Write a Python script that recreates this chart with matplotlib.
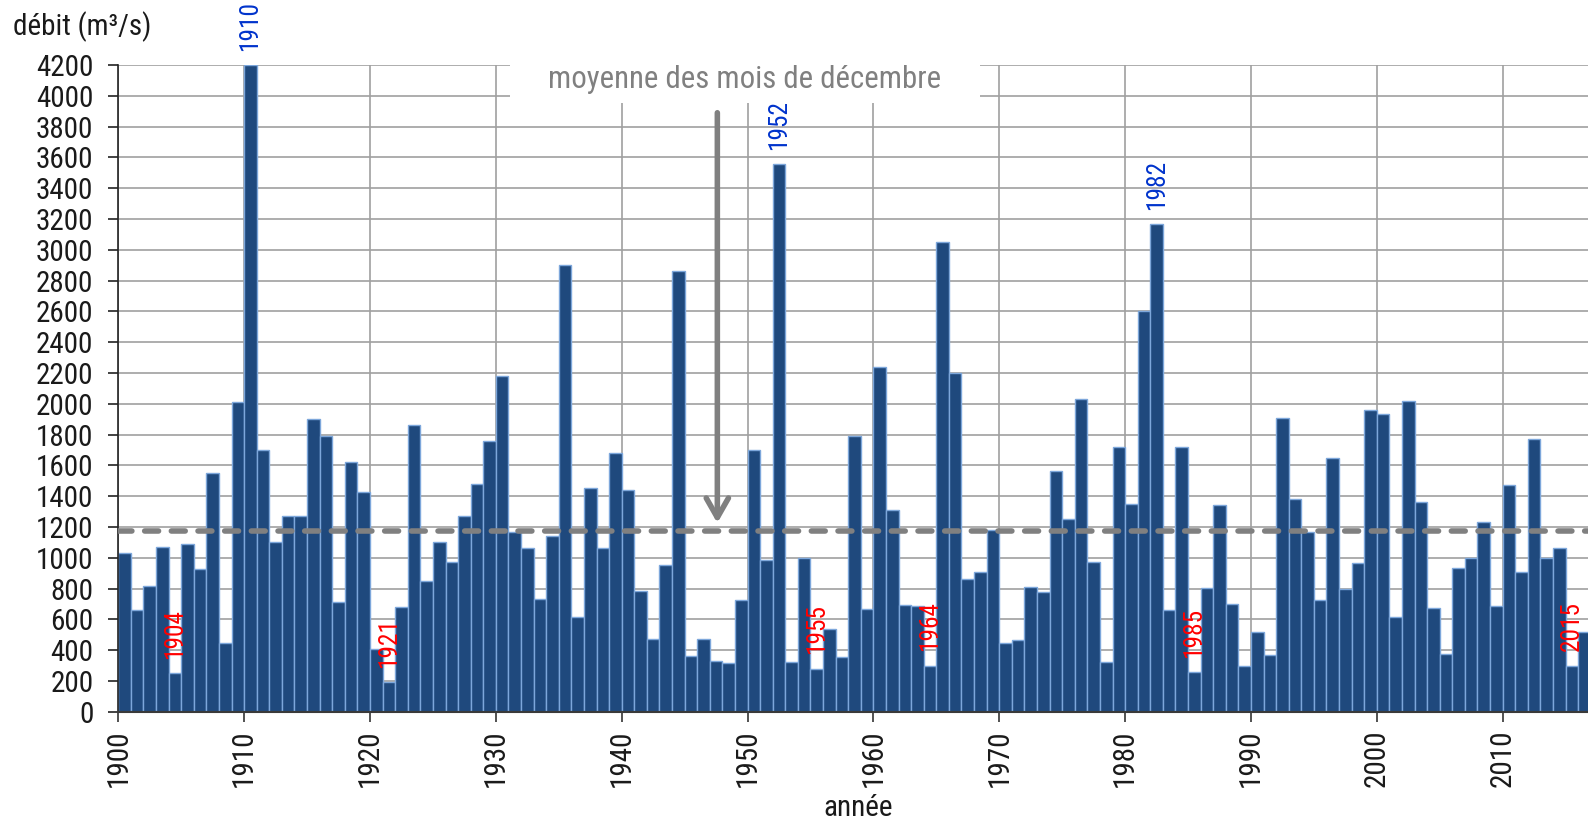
import numpy as np
import matplotlib
matplotlib.use("Agg")
import matplotlib.pyplot as plt
from matplotlib import font_manager as fm
from matplotlib.patches import Rectangle

# ---------------- data ----------------
years = list(range(1900, 2017))
debit = [
    1030, 660, 815, 1070, 250, 1090, 930, 1550, 445, 2010,      # 1900-1909
    4200, 1700, 1100, 1270, 1270, 1900, 1790, 710, 1620, 1430,  # 1910-1919
    410, 190, 680, 1860, 850, 1100, 975, 1270, 1480, 1760,      # 1920-1929
    2180, 1170, 1065, 735, 1140, 2900, 615, 1450, 1060, 1680,   # 1930-1939
    1440, 785, 470, 950, 2860, 360, 475, 330, 315, 725,         # 1940-1949
    1700, 985, 3560, 325, 1000, 280, 535, 355, 1790, 665,       # 1950-1959
    2240, 1310, 690, 685, 297, 3050, 2200, 860, 905, 1180,      # 1960-1969
    445, 465, 810, 780, 1560, 1250, 2030, 975, 325, 1720,       # 1970-1979
    1350, 2600, 3170, 660, 1720, 255, 805, 1340, 700, 300,      # 1980-1989
    520, 365, 1910, 1380, 1170, 725, 1650, 795, 965, 1960,      # 1990-1999
    1935, 615, 2015, 1365, 675, 375, 935, 1000, 1235, 685,      # 2000-2009
    1470, 910, 1770, 1000, 1065, 297, 520,                      # 2010-2016
]
mean_december = 1175
high_years = [1910, 1952, 1982]
low_years = [1904, 1921, 1955, 1964, 1985, 2015]
xticks = list(range(1900, 2011, 10))
yticks = list(range(0, 4201, 200))
arrow_year = 1947.6
arrow_from, arrow_to = 3890, 1225

# ---------------- fonts: look for a condensed sans ----------------
def pick_font():
    entries = fm.fontManager.ttflist
    names = {f.name for f in entries}
    for cand in ['Liberation Sans Narrow', 'Arial Narrow', 'Roboto Condensed',
                 'Open Sans Condensed', 'Noto Sans Condensed', 'DejaVu Sans Condensed']:
        if cand in names:
            return cand, 'normal', True
    cond = []
    for f in entries:
        st = f.stretch
        if isinstance(st, str):
            is_c = 'condensed' in st
        else:
            is_c = st < 500
        if is_c and f.style == 'normal' and f.weight in (400, 'normal', 'regular'):
            cond.append(f)
    if cond:
        for pref in ['Roboto', 'Noto Sans', 'Open Sans', 'DejaVu Sans', 'Liberation Sans']:
            for f in cond:
                if f.name == pref:
                    return f.name, f.stretch, True
        f = cond[0]
        return f.name, f.stretch, True
    return 'Liberation Sans', 'normal', False

FONT, STRETCH, CONDENSED = pick_font()
plt.rcParams['font.family'] = [FONT, 'DejaVu Sans']
plt.rcParams['font.stretch'] = STRETCH
FS = 21.0 if CONDENSED else 18

W, H = 1588, 822
fig = plt.figure(figsize=(W / 100, H / 100), dpi=100)
left, right = 118.3, 1588
top, bottom = 65.0, 711.7
ax = fig.add_axes([left / W, 1 - bottom / H, (right - left) / W, (bottom - top) / H])

px_per_year = 12.585
ax.set_xlim(1900, 1900 + (right - left) / px_per_year)
ax.set_ylim(0, 4200)

ax.bar(years, debit, width=1.0, align='edge', color='#1F497D',
       edgecolor='#7DA7DB', linewidth=1.0, zorder=2)

ax.set_axisbelow(True)
ax.set_yticks(yticks)
ax.set_xticks(xticks)
ax.grid(True, color='#A0A0A0', linewidth=1.2)
for s in ['top', 'right']:
    ax.spines[s].set_visible(False)
ax.spines['left'].set_color('#222222')
ax.spines['left'].set_linewidth(1.2)
ax.spines['bottom'].set_color('#3A3A3A')
ax.spines['bottom'].set_linewidth(1.5)
ax.spines['bottom'].set_zorder(3)

ax.tick_params(axis='y', length=7, width=1.2, color='#222222', pad=11,
               labelsize=FS, labelcolor='#1a1a1a')
ax.tick_params(axis='x', length=7, width=1.2, color='#333333', pad=6,
               labelsize=FS, labelcolor='#1a1a1a', labelrotation=90)
for lbl in ax.get_xticklabels():
    lbl.set_horizontalalignment('center')

# mean line
ax.plot([1900, ax.get_xlim()[1]], [mean_december, mean_december], color='#808080',
        linewidth=4.0, dashes=(2.5, 2.3), dash_capstyle='round', zorder=4)

# arrow
ax.annotate('', xy=(arrow_year, arrow_to), xytext=(arrow_year, arrow_from),
            arrowprops=dict(arrowstyle='->,head_length=1.4,head_width=0.8',
                            color='#808080', lw=4.0, shrinkA=0, shrinkB=0),
            zorder=5)

# year labels
val = dict(zip(years, debit))
LFS = FS * 0.87
for y in high_years:
    ax.text(y + 0.5, val[y] + 90, str(y), rotation=90, ha='center', va='bottom',
            color='#0033CC', fontsize=LFS, clip_on=False, zorder=6)
for y in low_years:
    ax.text(y + 0.5, val[y] + 95, str(y), rotation=90, ha='center', va='bottom',
            color='#FF0000', fontsize=LFS, zorder=6)

# title box
fig.add_artist(Rectangle((510 / W, 1 - 103 / H), 470 / W, 45 / H,
                         transform=fig.transFigure, facecolor='white',
                         edgecolor='none', zorder=5))
fig.text(745 / W, 1 - 80 / H, 'moyenne des mois de décembre', ha='center',
         va='center', color='#808080', fontsize=FS * 1.06, zorder=6)

fig.text(13 / W, 1 - 27 / H, 'débit (m³/s)', ha='left', va='center',
         color='#1a1a1a', fontsize=FS)
fig.text(858 / W, 1 - 808 / H, 'année', ha='center', va='center',
         color='#1a1a1a', fontsize=FS)

fig.savefig('out.png', dpi=100)
